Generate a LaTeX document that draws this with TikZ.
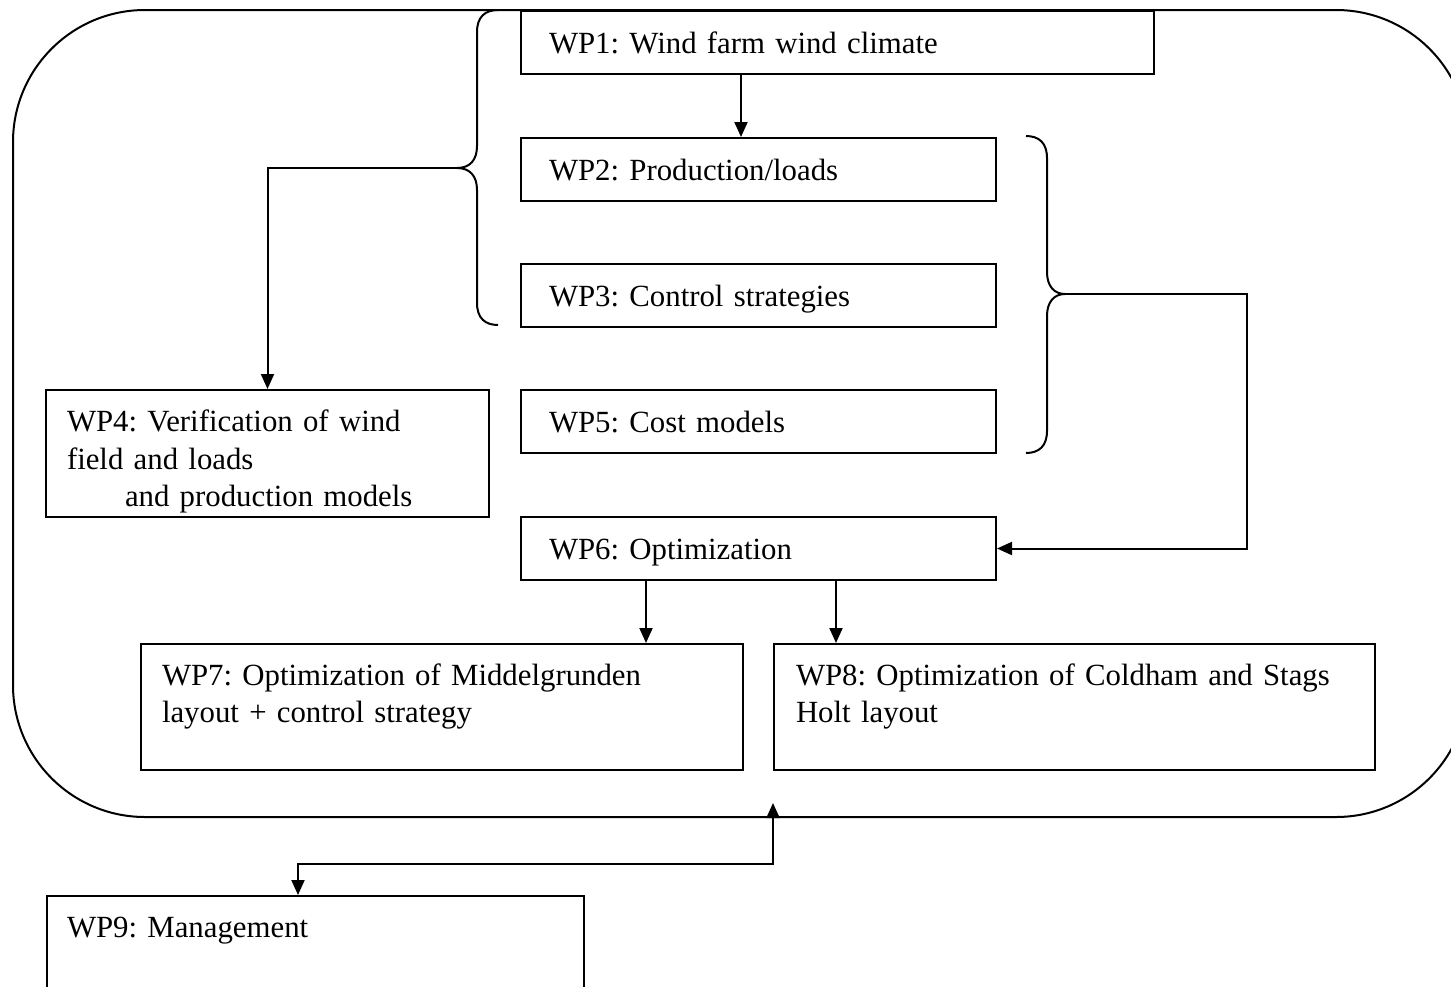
\documentclass[tikz,border=0pt]{standalone}
\usepackage{fontspec}
\setmainfont{Liberation Serif}
\usetikzlibrary{arrows.meta,calc}
\frenchspacing
\begin{document}
\begin{tikzpicture}[x=0.5pt,y=-0.5pt,
  box/.style={draw, line width=1pt, anchor=north west, align=left, inner ysep=0pt,
    text height=11pt, font=\fontsize{15.4}{18.75}\selectfont\frenchspacing},
  single/.style={box, text depth=0.5pt, minimum height=31.5pt},
  multi/.style={box, text depth=33pt},
  arr/.style={line width=1pt, -{Triangle[length=7.5pt,width=6.5pt]}},
  dblarr/.style={line width=1pt, {Triangle[length=7.5pt,width=6.5pt]}-{Triangle[length=7.5pt,width=6.5pt]}},
  bracepath/.style={line width=1pt},
  frame/.style={line width=1pt, rounded corners=66pt}]
\useasboundingbox (0,0) rectangle (1451,986);
\clip (0,0) rectangle (1451,986);

% outer rounded frame
\draw[frame] (13,10) rectangle (1468,817);

% work package boxes
\node[single, inner xsep=14pt, text width=288.5pt] (wp1) at (520,10) {WP1: Wind farm wind climate};
\node[single, inner xsep=14pt, text width=209.5pt] (wp2) at (520,137) {WP2: Production/loads};
\node[single, inner xsep=14pt, text width=209.5pt] (wp3) at (520,263) {WP3: Control strategies};
\node[single, inner xsep=14pt, text width=209.5pt] (wp5) at (520,389) {WP5: Cost models};
\node[single, inner xsep=14pt, text width=209.5pt] (wp6) at (520,516) {WP6: Optimization};
\node[multi, inner xsep=10.5pt, text width=200.5pt, minimum height=63.5pt] (wp4) at (45,389)
  {WP4: Verification of wind\\field and loads\\\hspace*{29pt}and production models};
\node[multi, inner xsep=10.5pt, text width=280pt, minimum height=63pt] (wp7) at (140,643)
  {WP7: Optimization of Middelgrunden\\layout + control strategy};
\node[multi, inner xsep=11pt, text width=278.5pt, minimum height=63pt] (wp8) at (773,643)
  {WP8: Optimization of Coldham and Stags\\Holt layout};
\node[multi, inner xsep=10pt, text width=248.5pt, minimum height=63.5pt] (wp9) at (46,895)
  {WP9: Management};

% braces
\draw[bracepath] (498,10) .. controls (485,10) and (477,17) .. (477,32) -- (477,146)
  .. controls (477,160) and (470,168) .. (457,168)
  .. controls (470,168) and (477,176) .. (477,190) -- (477,303)
  .. controls (477,318) and (485,325) .. (498,325);
\coordinate (ltip) at (457,168);
\draw[bracepath] (1026,136) .. controls (1039,136) and (1047,143) .. (1047,158) -- (1047,272)
  .. controls (1047,286) and (1054,294) .. (1065,294)
  .. controls (1054,294) and (1047,302) .. (1047,316) -- (1047,431)
  .. controls (1047,446) and (1039,453) .. (1026,453);
\coordinate (rtip) at (1065,294);
\coordinate (rcorner) at (1247,294);

% helper x positions
\coordinate (x741) at (741,0);
\coordinate (x646) at (646,0);
\coordinate (x836) at (836,0);
\coordinate (b1) at (298,864);
\coordinate (b2) at (773,864);
\coordinate (ftip) at (773,803);

% connectors
\draw[arr] (wp1.south -| x741) -- (wp2.north -| x741);
\draw[arr] (ltip) -| (wp4.north);
\draw[arr] (rtip) -- (rcorner) |- (wp6.east);
\draw[arr] (wp6.south -| x646) -- (wp7.north -| x646);
\draw[arr] (wp6.south -| x836) -- (wp8.north -| x836);
\draw[dblarr] (ftip) -- (b2) -- (b1) -- (wp9.north -| b1);
\end{tikzpicture}
\end{document}
